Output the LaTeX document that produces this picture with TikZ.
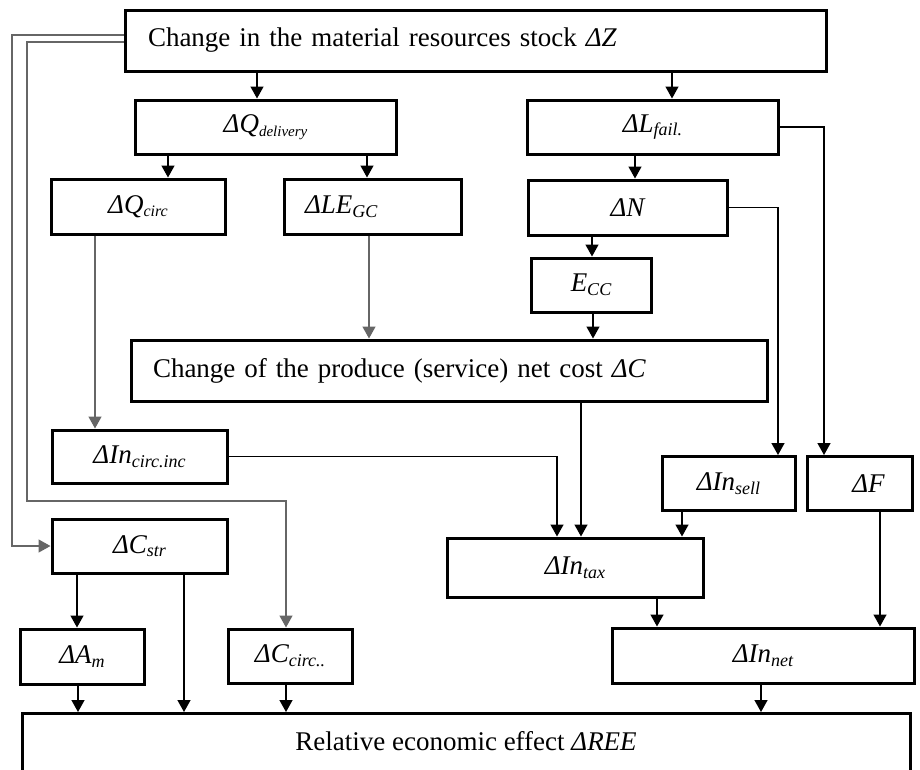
\documentclass[tikz,border=0pt]{standalone}
\usepackage{fontspec}
\setmainfont{Liberation Serif}
\usetikzlibrary{arrows.meta}

\newcommand{\lo}[2][18]{\raisebox{-0.3ex}{\fontsize{#1}{#1}\selectfont #2}}

\begin{document}
\begin{tikzpicture}[x=1pt,y=-1pt,
    box/.style={draw, line width=3pt, inner sep=0pt, font=\fontsize{27}{32}\selectfont\itshape},
    plain/.style={font=\fontsize{27}{32}\selectfont},
    conn/.style={line width=1.4pt, -{Triangle[width=13pt,length=12pt]}},
    conng/.style={conn, draw=black!60}]
                \useasboundingbox (0,0) rectangle (920,769);

                % Top boxes
                \node[box, plain, inner xsep=23pt, text width=655pt, align=left, minimum height=61pt] (Z) at (475.5,40.5) {Change in the material resources stock {\itshape ΔZ}};
                \node[box, minimum width=261pt, minimum height=54pt] (Qdel) at (265.5,127) {ΔQ\lo[15]{delivery}};
                \node[box, minimum width=251pt, minimum height=54pt] (Lfail) at (652.5,127) {ΔL\lo{fail.}};

                % Second row
                \node[box, minimum width=174pt, minimum height=55pt] (Qcirc) at (138,206.5) {ΔQ\lo[16]{circ}};
                \node[box, inner xsep=21pt, text width=135pt, align=left, minimum height=55pt] (LEGC) at (372.5,206.5) {ΔLE\lo{GC}};
                \node[box, minimum width=199pt, minimum height=55pt] (dN) at (627.5,207.5) {ΔN};
                \node[box, minimum width=120pt, minimum height=54pt] (Ecc) at (591,285) {E\lo{CC}};

                % Net cost
                \node[box, plain, inner xsep=22pt, text width=592pt, align=left, minimum height=61pt] (dC) at (449,370.5) {Change of the produce (service) net cost {\itshape ΔC}};

                % Income boxes
                \node[box, minimum width=175pt, minimum height=53pt] (Incirc) at (139.5,456.5) {ΔIn\lo{circ.inc}};
                \node[box, minimum width=133pt, minimum height=54pt] (Insell) at (728.5,483.5) {ΔIn\lo{sell}};
                \node[box, minimum width=105pt, minimum height=54pt] (dF) at (859.5,483.5) {\hspace*{18pt}ΔF};
                \node[box, minimum width=175pt, minimum height=54pt] (Cstr) at (139.5,546) {ΔC\lo{str}};
                \node[box, minimum width=256pt, minimum height=59pt] (Intax) at (575,567.5) {ΔIn\lo{tax}};
                \node[box, minimum width=124pt, minimum height=55pt] (Am) at (82,656.5) {ΔA\lo{m}};
                \node[box, minimum width=124pt, minimum height=54pt] (Ccirc) at (290,656) {ΔC\lo{circ..}};
                \node[box, minimum width=302pt, minimum height=55pt] (Innet) at (763,655.5) {ΔIn\lo{net}};

                % Result
                \node[box, plain, minimum width=888pt, inner ysep=0pt, text height=37pt, text depth=52pt, anchor=north] (REE) at (466,712) {Relative economic effect {\itshape ΔREE}};

                % Arrows from the top
                \draw[conn] (Z.south -| 257,0) -- (Qdel.north -| 257,0);
                \draw[conn] (Z.south -| 672,0) -- (Lfail.north -| 672,0);
                \draw[conn] (Qdel.south -| 168,0) -- (Qcirc.north -| 168,0);
                \draw[conn] (Qdel.south -| 367,0) -- (LEGC.north -| 367,0);
                \draw[conn] (Lfail.south -| 635,0) -- (dN.north -| 635,0);
                \draw[conn] (dN.south -| 592,0) -- (Ecc.north -| 592,0);
                \draw[conn] (Ecc.south -| 593,0) -- (dC.north -| 593,0);
                \draw[conng] (LEGC.south -| 369,0) -- (dC.north -| 369,0);
                \draw[conng] (Qcirc.south -| 95,0) -- (Incirc.north -| 95,0);

                % Side lines
                \draw[conn] (Lfail.east) -| (dF.north -| 824,0);
                \draw[conn] (dN.east) -| (Insell.north -| 778,0);
                \draw[conn] (Incirc.east) -| (Intax.north -| 557,0);
                \draw[conng] (Z.west |- 0,35) -- (12,35) |- (Cstr.west);
                \draw[conng] (Z.west |- 0,42) -- (27,42) |- (286,501) -- (Ccirc.north -| 286,0);

                % Arrows to the bottom
                \draw[conn] (dC.south -| 581,0) -- (Intax.north -| 581,0);
                \draw[conn] (Insell.south -| 682,0) -- (Intax.north -| 682,0);
                \draw[conn] (Intax.south -| 657,0) -- (Innet.north -| 657,0);
                \draw[conn] (dF.south -| 880,0) -- (Innet.north -| 880,0);
                \draw[conn] (Cstr.south -| 77,0) -- (Am.north -| 77,0);
                \draw[conn] (Cstr.south -| 184,0) -- (REE.north -| 184,0);
                \draw[conn] (Am.south -| 78,0) -- (REE.north -| 78,0);
                \draw[conn] (Ccirc.south -| 286,0) -- (REE.north -| 286,0);
                \draw[conn] (Innet.south -| 761,0) -- (REE.north -| 761,0);
            \end{tikzpicture}
\end{document}
